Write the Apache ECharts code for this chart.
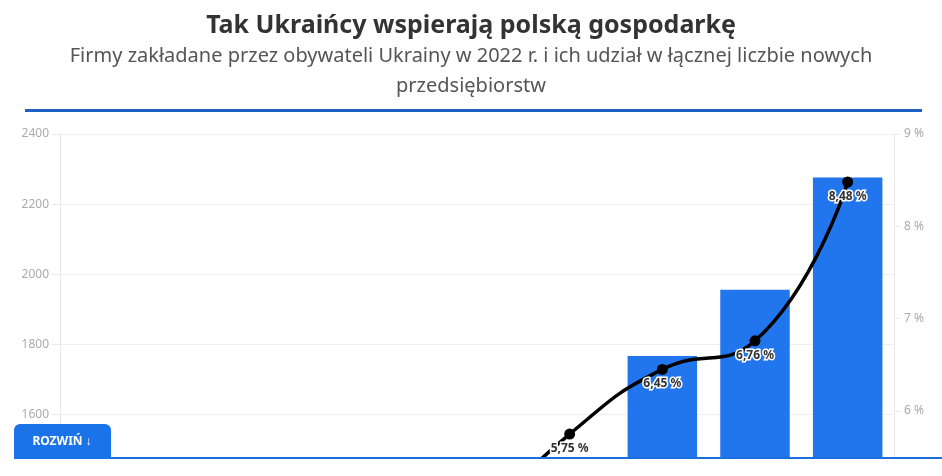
<!DOCTYPE html>
<html>
<head>
<meta charset="utf-8">
<script src="https://cdn.jsdelivr.net/npm/echarts@6/dist/echarts.min.js"></script>
<style>
  html, body { margin: 0; padding: 0; background: #fff; overflow: hidden; }
  .wrapper { width: 942px; height: 476px; overflow: hidden; position: relative; }
  #chart { width: 942px; height: 1000px; }
</style>
</head>
<body>
<div class="wrapper">
  <div id="chart"></div>
</div>
<script>
// miesiące 2022 (dolna część wykresu jest ucięta na obrazku)
var months = ['sty', 'lut', 'mar', 'kwi', 'maj', 'cze', 'lip', 'sie', 'wrz'];
// firmy zakładane przez obywateli Ukrainy
var firms = [620, 580, 790, 1010, 1190, 1420, 1767, 1956, 2276];
// udział w łącznej liczbie nowych firm (%)
var share = [1.8, 1.7, 2.9, 3.9, 4.8, 5.75, 6.45, 6.76, 8.48];
// etykiety prawej osi
var rightTicks = [0, 1, 2, 3, 4, 5, 6, 7, 8, 9];

var font = 'Noto Sans';
var myChart = echarts.init(document.getElementById('chart'));

myChart.setOption({
  animation: false,
  textStyle: { fontFamily: font },
  title: {
    left: 'center',
    top: 8,
    text: 'Tak Ukraińcy wspierają polską gospodarkę',
    subtext: 'Firmy zakładane przez obywateli Ukrainy w 2022 r. i ich udział w łącznej liczbie nowych\nprzedsiębiorstw',
    itemGap: 3,
    textStyle: { fontFamily: font, fontSize: 25, fontWeight: 'bold', color: '#333' },
    subtextStyle: { fontFamily: font, fontSize: 20, color: '#555', lineHeight: 30 }
  },
  // wykres sięga poniżej widocznego obszaru (ucięty jak w oryginale)
  grid: {
    left: 60,
    right: 48,
    top: 134,
    bottom: 24
  },
  xAxis: {
    type: 'category',
    data: months,
    axisLine: { lineStyle: { color: '#ddd' } },
    axisTick: { show: false },
    axisLabel: { color: '#999' }
  },
  yAxis: [
    {
      type: 'value',
      min: 0,
      max: 2400,
      interval: 200,
      axisLine: { show: true, lineStyle: { color: '#e8e8e8' } },
      axisTick: { show: true, length: 8, lineStyle: { color: '#e8e8e8' } },
      axisLabel: {
        color: '#aaa', fontSize: 12, margin: 11, fontFamily: font,
        formatter: function (v) { return String(v); }
      },
      splitLine: { lineStyle: { color: '#efefef' } }
    },
    {
      type: 'value',
      min: -0.12,
      max: 9,
      position: 'right',
      axisLine: { show: true, lineStyle: { color: '#e8e8e8' } },
      axisTick: { show: true, length: 6, customValues: rightTicks, lineStyle: { color: '#e8e8e8' } },
      axisLabel: {
        color: '#aaa', fontSize: 12, margin: 10, fontFamily: font,
        customValues: rightTicks,
        formatter: function (v) { return v + ' %'; }
      },
      splitLine: { show: false }
    }
  ],
  series: [
    {
      name: 'Firmy',
      type: 'bar',
      data: firms,
      barCategoryGap: '25%',
      itemStyle: { color: '#2176ee' }
    },
    {
      name: 'Udział',
      type: 'line',
      yAxisIndex: 1,
      data: share,
      smooth: true,
      symbol: 'circle',
      symbolSize: 11,
      lineStyle: { color: '#000', width: 3.5 },
      itemStyle: { color: '#000' },
      label: {
        show: true,
        position: 'bottom',
        distance: 3,
        fontFamily: font,
        fontSize: 12,
        fontWeight: 'bold',
        color: '#333',
        textBorderColor: '#fff',
        textBorderWidth: 3,
        formatter: function (p) { return p.value.toFixed(2).replace('.', ',') + ' %'; }
      }
    }
  ],
  graphic: [
    { type: 'rect', z: 100, shape: { x: 25, y: 109, width: 897, height: 3 }, style: { fill: '#1e60c4' } },
    { type: 'rect', z: 100, shape: { x: 0, y: 459, width: 942, height: 541 }, style: { fill: '#fff' } },
    { type: 'rect', z: 101, shape: { x: 14, y: 457, width: 928, height: 2 }, style: { fill: '#1a6fe0' } },
    { type: 'rect', z: 102, shape: { x: 14, y: 424, width: 97, height: 35, r: [6, 6, 0, 0] }, style: { fill: '#1a73e8' } },
    {
      type: 'text', z: 103, x: 62, y: 442,
      style: { text: 'ROZWIŃ ↓', fill: '#fff', fontSize: 12, fontWeight: 'bold', fontFamily: font, align: 'center', verticalAlign: 'middle' }
    }
  ]
});
</script>
</body>
</html>
